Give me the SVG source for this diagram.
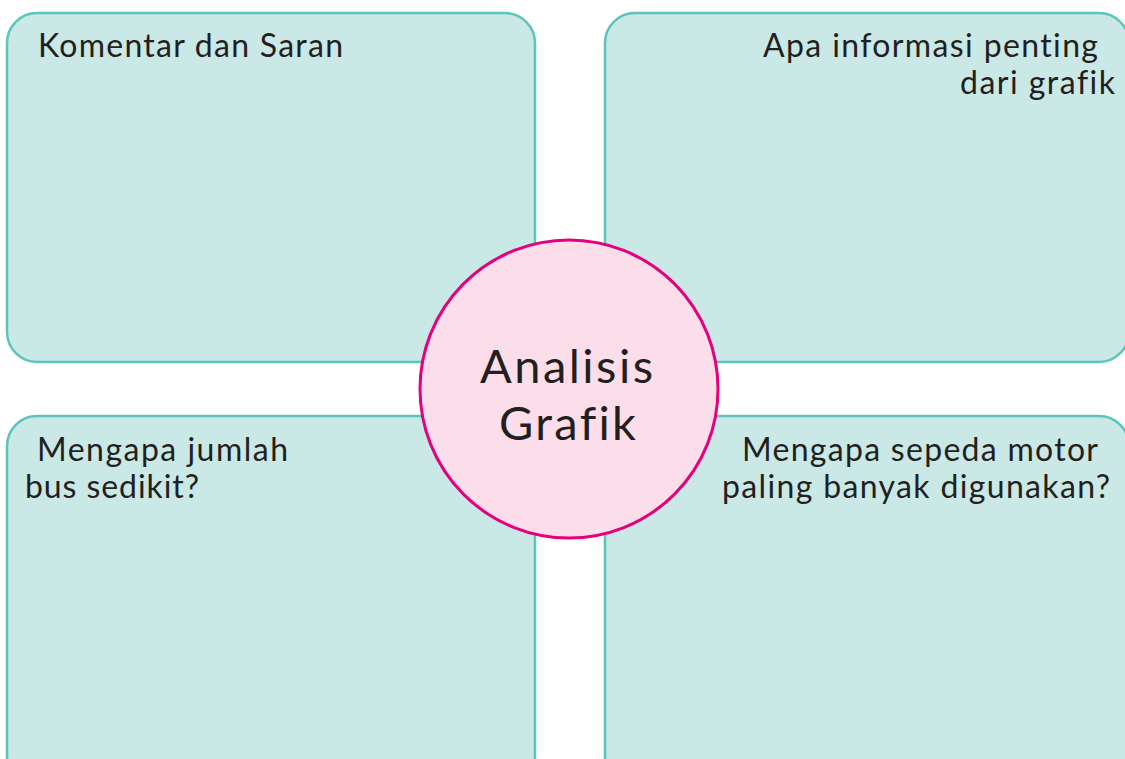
<svg xmlns="http://www.w3.org/2000/svg" width="1125" height="759" viewBox="0 0 1125 759">
<style>
.box{fill:#c9e8e6;stroke:#5cc5bb;stroke-width:2.5}
.hub{fill:#fcdeea;stroke:#e5007d;stroke-width:3}
.t{font-family:Lato,"Open Sans",sans-serif;font-size:32px;fill:#231f20;font-variant-ligatures:none}
.c{font-family:Lato,"Open Sans",sans-serif;font-size:47px;fill:#231f20;font-variant-ligatures:none}
</style>
<rect width="1125" height="759" fill="#ffffff"/>
<g id="connectors"></g>
<g id="node-komentar">
<rect class="box" x="7" y="13" width="528" height="349" rx="30"/>
<text class="t" x="38" y="57" textLength="305" lengthAdjust="spacing">Komentar dan Saran</text>
</g>
<g id="node-informasi">
<rect class="box" x="605" y="13" width="524" height="349" rx="30"/>
<text class="t" x="763" y="57" textLength="335" lengthAdjust="spacing">Apa informasi penting</text>
<text class="t" x="960" y="94" textLength="155" lengthAdjust="spacing">dari grafik</text>
</g>
<g id="node-bus">
<rect class="box" x="7" y="416" width="528" height="370" rx="30"/>
<text class="t" x="37" y="461" textLength="251" lengthAdjust="spacing">Mengapa jumlah</text>
<text class="t" x="25" y="498" textLength="174" lengthAdjust="spacing">bus sedikit?</text>
</g>
<g id="node-motor">
<rect class="box" x="605" y="416" width="524" height="370" rx="30"/>
<text class="t" x="742" y="461" textLength="356" lengthAdjust="spacing">Mengapa sepeda motor</text>
<text class="t" x="722" y="498" textLength="388" lengthAdjust="spacing">paling banyak digunakan?</text>
</g>
<g id="node-center">
<circle class="hub" cx="569" cy="389" r="149"/>
<text class="c" x="480" y="383" textLength="173" lengthAdjust="spacing">Analisis</text>
<text class="c" x="499" y="440" textLength="137" lengthAdjust="spacing">Grafik</text>
</g>
</svg>
